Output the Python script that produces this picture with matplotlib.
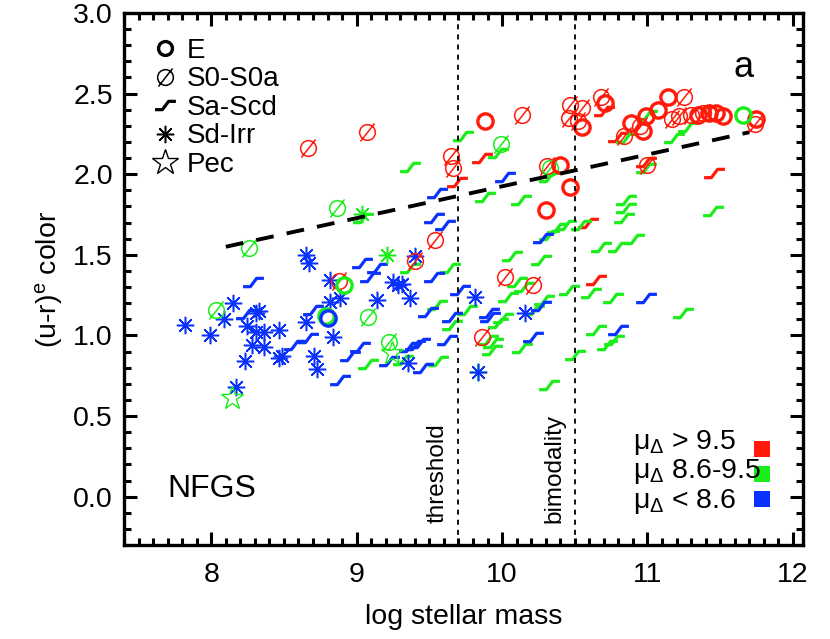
import numpy as np
import matplotlib
matplotlib.use("Agg")
import matplotlib.pyplot as plt
from matplotlib.path import Path
from matplotlib.ticker import MultipleLocator, FormatStrFormatter

plt.rcParams['font.family'] = ['Liberation Sans', 'DejaVu Sans']
plt.rcParams['mathtext.fontset'] = 'custom'
plt.rcParams['mathtext.rm'] = 'Liberation Sans'
plt.rcParams['mathtext.it'] = 'Liberation Sans'
plt.rcParams['mathtext.bf'] = 'Liberation Sans:bold'

# mu_Delta bins: r > 9.5, g 8.6-9.5, b < 8.6
COLORS = {'r': '#ff1a0a', 'g': '#1aee1a', 'b': '#0a32ff'}

# E (thick open circles)
e_x = [9.88, 10.40, 10.47, 10.30, 10.55, 10.71, 11.14, 11.07, 10.99, 10.89,
       10.97, 11.35, 11.42, 11.47, 11.52, 11.75, 11.66, 8.79, 8.91, 8.80]
e_y = [2.33, 2.06, 1.92, 1.78, 2.29, 2.44, 2.48, 2.40, 2.36, 2.32,
       2.27, 2.37, 2.38, 2.38, 2.36, 2.34, 2.37, 1.12, 1.31, 1.11]
e_c = "rrrrrrrrrrrrrrrrgggb"

# S0-S0a (slashed circles)
s0_x = [9.07, 8.665, 9.65, 9.665, 10.14, 10.31, 10.47, 10.55, 10.46, 10.52,
        10.68, 10.84, 10.95, 11.25, 11.17, 11.22, 11.30, 11.38, 11.74, 11.00,
        9.54, 9.40, 8.88, 9.865, 10.02, 10.21,
        9.99, 10.33, 8.865, 8.26, 8.03, 9.08, 9.22]
s0_y = [2.26, 2.16, 2.11, 2.04, 2.37, 2.05, 2.43, 2.41, 2.35, 2.33,
        2.48, 2.24, 2.30, 2.48, 2.34, 2.36, 2.37, 2.38, 2.31, 2.06,
        1.59, 1.46, 1.34, 0.99, 1.36, 1.31,
        2.19, 2.04, 1.79, 1.54, 1.16, 1.115, 0.96]
s0_c = "r" * 26 + "g" * 7

# Sa-Scd (step symbols)
sa_x = [9.865, 9.69, 10.59, 10.645, 10.70, 10.80, 10.99, 11.46,
        9.73, 9.37, 9.975, 9.885, 10.13, 10.32, 10.38, 10.54, 10.44, 10.32,
        10.68, 10.80, 10.905, 10.85, 10.85, 10.84, 10.07, 10.27, 10.10, 10.15,
        10.46, 10.61, 10.76, 10.04, 10.29, 10.22, 10.01, 10.645, 10.77, 10.72,
        9.94, 10.14, 10.505, 10.32, 11.245, 11.00, 10.85, 11.18, 11.28, 10.99,
        11.45, 9.37, 9.645, 9.555, 9.76, 9.655, 9.08, 9.32, 9.56, 9.045,
        9.90, 9.93, 9.97,
        9.555, 9.04, 9.14, 9.09, 9.53, 9.71, 9.49, 9.655, 8.70, 8.665,
        9.02, 8.955, 9.22, 9.40, 9.435, 9.36, 9.62, 9.455, 8.885, 9.92,
        10.02, 9.53, 9.61, 10.285, 10.265, 9.91, 10.99, 10.80, 10.21, 8.285,
        8.24, 8.57]
sa_y = [2.10, 1.95, 1.70, 1.345, 2.39, 2.23, 2.075, 2.01,
        2.24, 2.045, 2.13, 1.86, 1.84, 1.98, 1.665, 1.685, 1.685, 1.62,
        1.55, 1.55, 1.60, 1.84, 1.79, 1.73, 1.49, 1.47, 1.33, 1.30,
        1.28, 1.265, 1.235, 1.24, 1.22, 1.16, 1.11, 1.035, 0.97, 0.94,
        0.95, 0.92, 0.88, 0.69, 1.14, 2.37, 2.225, 2.225, 2.29, 2.04,
        1.77, 1.42, 1.42, 1.19, 1.16, 1.065, 0.82, 0.85, 0.84, 1.73,
        0.97, 0.91, 1.08,
        1.885, 1.45, 1.42, 1.365, 1.36, 1.28, 1.145, 1.115, 1.16, 0.985,
        0.93, 0.87, 0.84, 0.94, 0.955, 0.93, 0.97, 0.80, 0.725, 1.115,
        1.98, 1.73, 1.685, 1.605, 1.18, 1.14, 1.235, 1.035, 0.99, 1.33,
        1.13, 0.94]
sa_c = "r" * 8 + "g" * 53 + "b" * 32

# Sd-Irr (asterisks)
sd_x = [7.82, 7.99, 8.085, 8.15, 8.245, 8.31, 8.33, 8.31, 8.36, 8.28,
        8.36, 8.465, 8.23, 8.17, 8.465, 8.49, 8.65, 8.65, 8.67, 8.71,
        8.73, 8.815, 8.815, 8.885, 8.84, 9.14, 9.40, 9.25, 9.285, 9.31,
        9.37, 9.35, 9.815, 9.835, 10.16,
        9.21, 9.04, 9.835]
sd_y = [1.065, 1.00, 1.10, 1.20, 1.06, 1.14, 1.15, 1.02, 1.02, 0.94,
        0.93, 1.035, 0.84, 0.68, 0.86, 0.87, 1.085, 1.50, 1.45, 0.87,
        0.79, 1.345, 1.21, 1.23, 0.99, 1.22, 1.49, 1.33, 1.31, 1.32,
        1.23, 0.83, 1.24, 0.775, 1.14,
        1.50, 1.75, 0.77]
sd_c = "b" * 35 + "g" * 3

# Pec (stars)
pec_x = [8.14, 9.24]
pec_y = [0.61, 0.89]
pec_c = "gg"

# dashed relation and vertical markers
dash_x = [8.10, 11.70]
dash_y = [1.55, 2.26]
threshold = 9.7
bimodality = 10.5

type_labels = ['E', 'S0-S0a', 'Sa-Scd', 'Sd-Irr', 'Pec']
bin_labels = [r'$\mu_{\Delta}$ > 9.5', r'$\mu_{\Delta}$ 8.6-9.5', r'$\mu_{\Delta}$ < 8.6']

# marker shapes
step_marker = Path([(-1, -0.4), (-0.3, -0.4), (0.3, 0.4), (1, 0.4)],
                   [Path.MOVETO, Path.LINETO, Path.LINETO, Path.LINETO])
slash = Path([(-0.9, -1.15), (0.9, 1.15)], [Path.MOVETO, Path.LINETO])
s0_marker = Path.make_compound_path(Path.unit_circle(), slash)

styles = {
    'E': dict(marker='o', ms=11, mew=2.4),
    'S0-S0a': dict(marker=s0_marker, ms=13, mew=1.1),
    'Sa-Scd': dict(marker=step_marker, ms=15, mew=2.3),
    'Sd-Irr': dict(marker=(8, 2, 0), ms=12.5, mew=1.1),
    'Pec': dict(marker='*', ms=17, mew=1.0),
}

fig = plt.figure(figsize=(8.3, 6.39), dpi=100)
ax = fig.add_axes([0.1494, 0.1471, 0.8181, 0.8326])


def draw(xs, ys, cs, st):
    xs = np.asarray(xs)
    ys = np.asarray(ys)
    cs = np.array(list(cs))
    for key, col in COLORS.items():
        m = cs == key
        if m.any():
            ax.plot(xs[m], ys[m], ls='none', mec=col, mfc='none', **st)


draw(sa_x, sa_y, sa_c, styles['Sa-Scd'])
draw(sd_x, sd_y, sd_c, styles['Sd-Irr'])
draw(s0_x, s0_y, s0_c, styles['S0-S0a'])
draw(e_x, e_y, e_c, styles['E'])
draw(pec_x, pec_y, pec_c, styles['Pec'])

ax.plot(dash_x, dash_y, color='k', lw=2.8, dashes=(4.6, 3.4))
for xv in (threshold, bimodality):
    ax.axvline(xv, color='k', lw=1.3, ls=(0, (2.8, 2.8)))
ax.text(threshold - 0.065, -0.165, 'threshold', rotation=90, ha='right',
        va='bottom', fontsize=17.5)
ax.text(bimodality - 0.065, -0.165, 'bimodality', rotation=90, ha='right',
        va='bottom', fontsize=17.5)

ax.text(11.59, 2.60, 'a', fontsize=26, va='baseline')
ax.text(7.70, 0.0, 'NFGS', fontsize=23, va='baseline')

# morphology key (top left)
for i, lab in enumerate(type_labels):
    yb = 0.9305 - 0.0535 * i
    st = dict(styles[lab])
    if lab == 'Pec':
        st['ms'] = 19
    if lab == 'E':
        st['ms'] = 10
    ax.plot([0.0604], [yb + 0.003], transform=ax.transAxes, ls='none',
            mec='k', mfc='none', **st)
    ax.text(0.0928, yb - 0.015, lab, transform=ax.transAxes, fontsize=20,
            va='baseline')

# colour key (bottom right): one block of text, squares beside it
ax.text(0.7496, 0.0695, '\n'.join(bin_labels), transform=ax.transAxes,
        fontsize=20.5, va='baseline', linespacing=1.03)
for i, col in enumerate(COLORS.values()):
    ax.plot([0.9396], [0.1805 - 0.047 * i], transform=ax.transAxes, ls='none',
            marker='s', ms=12, mew=0, color=col)

ax.set_xlim(7.4, 12.07)
ax.set_ylim(-0.3, 3.0)
ax.set_xticks([8, 9, 10, 11, 12])
ax.set_yticks(np.arange(0, 3.01, 0.5))
ax.yaxis.set_major_formatter(FormatStrFormatter('%.1f'))
ax.xaxis.set_minor_locator(MultipleLocator(0.1))
ax.yaxis.set_minor_locator(MultipleLocator(0.1))
ax.tick_params(which='both', direction='in', top=True, right=True, width=2.2)
ax.tick_params(which='major', length=9.6, labelsize=20.5)
ax.tick_params(which='minor', length=5.2)
ax.tick_params(axis='x', pad=12)
ax.tick_params(axis='y', pad=8)
for sp in ax.spines.values():
    sp.set_linewidth(2.4)

ax.set_xlabel('log stellar mass', fontsize=20.5, labelpad=12)
ax.set_ylabel('(u-r)$^{e}$ color', fontsize=20.5, labelpad=6)

fig.savefig('out.png', dpi=100)
